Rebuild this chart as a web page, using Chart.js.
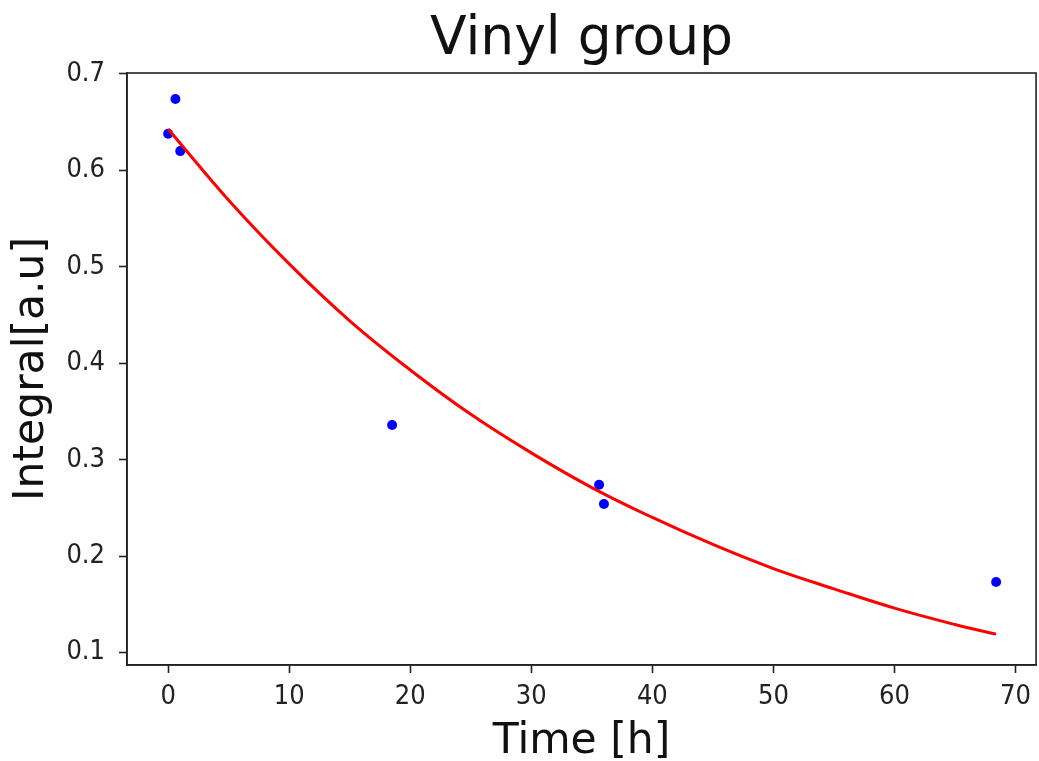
<!DOCTYPE html>
<html>
<head>
<meta charset="utf-8">
<script src="https://cdn.jsdelivr.net/npm/chart.js@4.4.1/dist/chart.umd.min.js"></script>
<style>
  html, body { margin: 0; padding: 0; background: #fff; }
  #wrap { width: 1039px; height: 761px; }
</style>
</head>
<body>
<div id="wrap"><canvas id="vinylChart" width="1039" height="761"></canvas></div>
<script>
// measured points
const timeH = [0, 0.6, 1.0, 18.5, 35.6, 36.0, 68.4];
const integral = [0.638, 0.674, 0.620, 0.336, 0.274, 0.254, 0.173];

// fitted curve
const fitTime = [0, 5, 10, 15, 20, 25, 30, 35, 40, 45, 50, 55, 60, 65, 68.4];
const fitValue = [0.643, 0.569, 0.503, 0.444, 0.393, 0.347, 0.307, 0.271, 0.240, 0.212, 0.187, 0.166, 0.146, 0.129, 0.119];

const xTicks = [0, 10, 20, 30, 40, 50, 60, 70];
const yTicks = [0.1, 0.2, 0.3, 0.4, 0.5, 0.6, 0.7];

const font = "'DejaVu Sans', sans-serif";
const tickFont = "'DejaVu Sans Condensed', 'DejaVu Sans', sans-serif";
const ink = "#222";

// box round the plot, like the matplotlib spines
const frame = {
    id: "frame",
    afterDatasetsDraw(chart){
        const a = chart.chartArea, c = chart.ctx;
        c.save();
        c.strokeStyle = ink;
        c.lineWidth = 1.6;
        c.strokeRect(a.left, a.top, a.right - a.left, a.bottom - a.top);
        c.restore();
    }
};

const ctx = document.getElementById("vinylChart");
new Chart(ctx, {
    type: "scatter",
    data: {
        datasets: [{
            label: "fit",
            type: "line",
            data: fitTime.map((t, i) => ({x: t, y: fitValue[i]})),
            borderColor: "#ff0000",
            borderWidth: 3,
            pointRadius: 0,
            tension: 0.4,
            fill: false,
            order: 0
        }, {
            label: "data",
            data: timeH.map((t, i) => ({x: t, y: integral[i]})),
            backgroundColor: "#0000ff",
            borderWidth: 0,
            pointRadius: 5,
            order: 1
        }]
    },
    options: {
        responsive: false,
        animation: false,
        devicePixelRatio: 1,
        layout: {autoPadding: false, padding: {left: 0, right: 1.5, top: 0, bottom: 0}},
        plugins: {
            legend: {display: false},
            tooltip: {enabled: false},
            title: {
                display: true,
                text: "Vinyl group",
                fullSize: false,
                color: "#111",
                font: {family: font, size: 53.5, weight: "normal", lineHeight: 1.2},
                padding: {top: 8, bottom: 0.8}
            }
        },
        scales: {
            x: {
                type: "linear",
                min: -3.4,
                max: 71.7,
                afterFit: s => { s.height = 96; },
                afterBuildTicks: s => { s.ticks = xTicks.map(v => ({value: v})); },
                ticks: {
                    color: ink,
                    font: {family: tickFont, size: 27},
                    padding: 8,
                    maxRotation: 0,
                    callback: v => String(v)
                },
                grid: {drawOnChartArea: false, drawTicks: true, tickLength: 8, tickColor: ink, tickWidth: 1.6},
                border: {display: true, color: ink, width: 1.6},
                title: {
                    display: true,
                    text: "Time [h]",
                    color: "#111",
                    font: {family: font, size: 42.5, lineHeight: 0.85},
                    padding: {top: 0, bottom: 0.5}
                }
            },
            y: {
                type: "linear",
                min: 0.087,
                max: 0.701,
                afterFit: s => { s.width = 127; },
                afterBuildTicks: s => { s.ticks = yTicks.map(v => ({value: v})); },
                ticks: {
                    color: ink,
                    font: {family: tickFont, size: 27},
                    padding: 14,
                    callback: v => v.toFixed(1)
                },
                grid: {drawOnChartArea: false, drawTicks: true, tickLength: 8, tickColor: ink, tickWidth: 1.6},
                border: {display: true, color: ink, width: 1.6},
                title: {
                    display: true,
                    text: "Integral[a.u]",
                    color: "#111",
                    font: {family: font, size: 42.5, lineHeight: 1.0},
                    padding: {top: 10.25, bottom: 0}
                }
            }
        }
    },
    plugins: [frame]
});
</script>
</body>
</html>
